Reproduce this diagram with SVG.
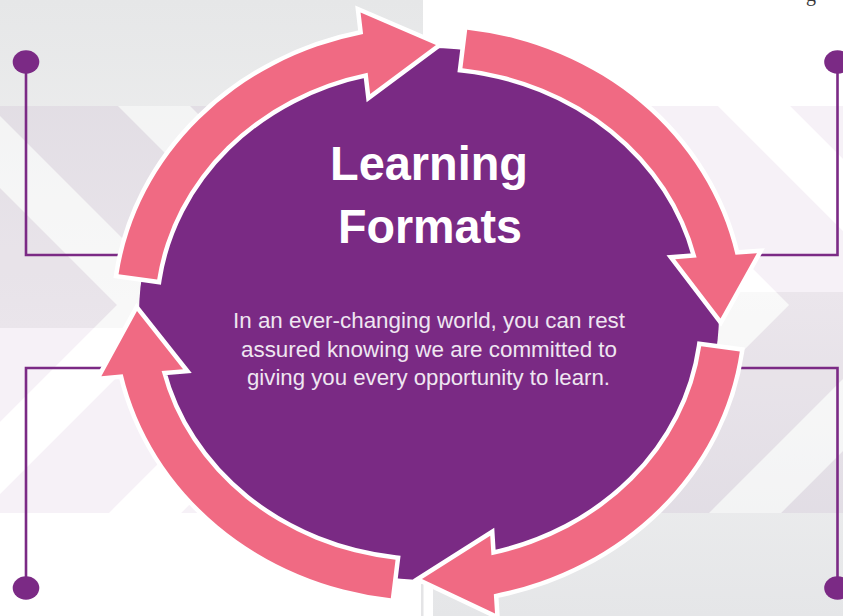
<svg xmlns="http://www.w3.org/2000/svg" width="843" height="616" viewBox="0 0 843 616">
<defs>
<linearGradient id="gTL" x1="0" y1="0" x2="0" y2="1"><stop offset="0" stop-color="#e6e7e8"/><stop offset="1" stop-color="#f3f3f3"/></linearGradient>
<linearGradient id="gBR" x1="0" y1="0" x2="0" y2="1"><stop offset="0" stop-color="#f4f4f4"/><stop offset="1" stop-color="#e5e6e8"/></linearGradient>
<style>
.arrow{fill:#f06a83;stroke:#ffffff;stroke-width:9;paint-order:stroke;stroke-linejoin:miter;stroke-miterlimit:10}
.lead{fill:none;stroke:#7b2a85;stroke-width:2.6}
.dot{fill:#7b2a85}
.title{font-family:'Liberation Sans Narrow','Liberation Sans',Arial,sans-serif;font-weight:bold;font-size:49px;fill:#ffffff;text-anchor:middle}
.body{font-family:'Liberation Sans Narrow','Liberation Sans',Arial,sans-serif;font-size:22px;fill:#efe6f1;text-anchor:middle}
.band{fill:#7a2a84;fill-opacity:0.065;fill-rule:evenodd}
.stripe{fill:#ffffff;fill-opacity:0.45}
</style>
</defs>
<g id="background">
<rect x="0" y="0" width="843" height="616" fill="#ffffff"/>
<rect x="0" y="0" width="423" height="328" fill="url(#gTL)"/>
<rect x="433" y="292" width="410" height="324" fill="url(#gBR)"/>
<rect x="421" y="584" width="2.5" height="32" fill="#e4e4e6"/>
<path class="band" d="M0 106H843V513H0Z M-82 106L-10 106L189 305L-19 513L-91 513L117 305Z M118 106L190 106L389 305L181 513L109 513L317 305Z M318 106L390 106L589 305L381 513L309 513L517 305Z M518 106L590 106L789 305L581 513L509 513L717 305Z M718 106L790 106L989 305L781 513L709 513L917 305Z"/>
<path class="stripe" d="M-82 106L-10 106L189 305L-19 513L-91 513L117 305Z M118 106L190 106L389 305L181 513L109 513L317 305Z M318 106L390 106L589 305L381 513L309 513L517 305Z M518 106L590 106L789 305L581 513L509 513L717 305Z M718 106L790 106L989 305L781 513L709 513L917 305Z"/>
<text x="806" y="1" font-family="'Liberation Serif',serif" font-size="20" fill="#3a3a3a">g</text>
</g>
<g id="connectors">
<path class="lead" d="M26 62V255H125"/>
<ellipse class="dot" cx="26" cy="62" rx="13.3" ry="11.7"/>
<path class="lead" d="M837.5 62V255H757"/>
<ellipse class="dot" cx="837.5" cy="62" rx="13.3" ry="11.7"/>
<path class="lead" d="M26 588V368H104"/>
<ellipse class="dot" cx="26" cy="588" rx="13.3" ry="11.7"/>
<path class="lead" d="M837.5 588V368H735"/>
<ellipse class="dot" cx="837.5" cy="588" rx="13.3" ry="11.7"/>
</g>
<g id="center">
<ellipse cx="429" cy="314" rx="290" ry="266" fill="#7a2a84"/>
<text class="title" x="429" y="180" textLength="198" lengthAdjust="spacingAndGlyphs">Learning</text>
<text class="title" x="430" y="243" textLength="184" lengthAdjust="spacingAndGlyphs">Formats</text>
<text class="body" x="429" y="328" textLength="392" lengthAdjust="spacingAndGlyphs">In an ever-changing world, you can rest</text>
<text class="body" x="429" y="357" textLength="376" lengthAdjust="spacingAndGlyphs">assured knowing we are committed to</text>
<text class="body" x="428.5" y="385" textLength="363" lengthAdjust="spacingAndGlyphs">giving you every opportunity to learn.</text>
</g>
<g id="arrow-1">
<path class="arrow" d="M118.55 274.13A313.5 286.5 0 0 1 363.09 33.96L360.57 12.61L436 45L370.17 94.05L367.65 72.7A274.5 247.5 0 0 0 157.17 279.56Z"/>
</g>
<g id="arrow-2">
<path class="arrow" d="M467.21 29.63A313.5 286.5 0 0 1 735.48 254.81L756.92 253.27L720.5 318.5L675.14 259.15L696.58 257.61A274.5 247.5 0 0 0 462.45 68.34Z"/>
</g>
<g id="arrow-3">
<path class="arrow" d="M739.8 351.4A313.5 286.5 0 0 1 493.82 594.13L495.02 613.6L422 579L490.24 535.74L491.44 555.21A274.5 247.5 0 0 0 701.2 346.3Z"/>
</g>
<g id="arrow-4">
<path class="arrow" d="M390.79 598.37A313.5 286.5 0 0 1 122.76 374.33L101.33 376.14L137 311L183.05 369.26L161.62 371.07A274.5 247.5 0 0 0 395.55 559.66Z"/>
</g>
</svg>
